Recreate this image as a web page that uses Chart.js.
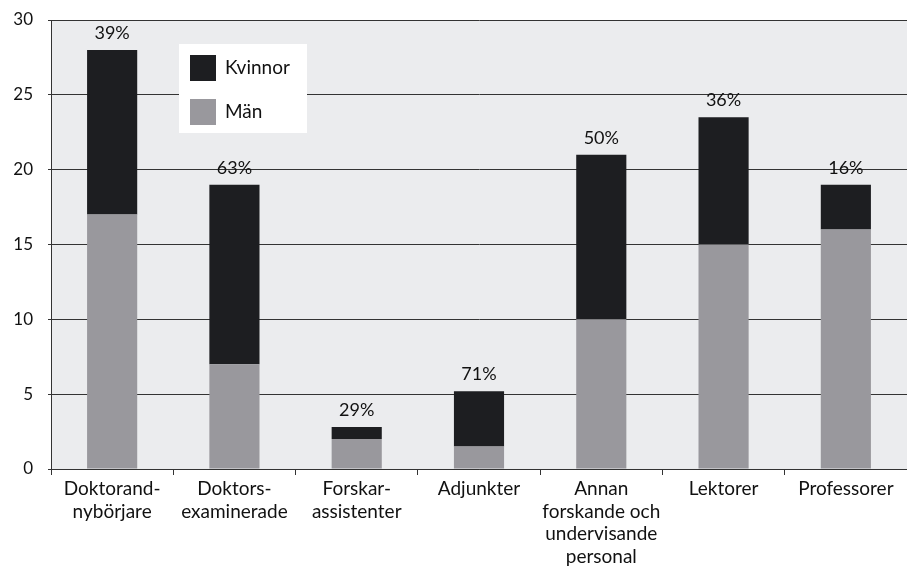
<!DOCTYPE html>
<html lang="sv">
<head>
<meta charset="UTF-8">
<title>Kvinnor och män</title>
<script src="https://cdn.jsdelivr.net/npm/chart.js@4"></script>
<style>
  html, body { margin: 0; padding: 0; background: #fff; }
  #wrap { width: 907px; height: 567px; position: relative; }
</style>
</head>
<body>
<div id="wrap"><canvas id="c"></canvas></div>
<script>
// kategorier (flera rader per etikett)
const categories = [
  ['Doktorand-', 'nybörjare'],
  ['Doktors-', 'examinerade'],
  ['Forskar-', 'assistenter'],
  ['Adjunkter'],
  ['Annan', 'forskande och', 'undervisande', 'personal'],
  ['Lektorer'],
  ['Professorer']
];
const manValues     = [17, 7, 2, 1.5, 10, 15, 16];
const kvinnorValues = [11, 12, 0.8, 3.7, 11, 8.5, 3];
const percentLabels = ['39%', '63%', '29%', '71%', '50%', '36%', '16%'];

const FONT = 'Lato, "DejaVu Sans", sans-serif';
const BLACK = '#1d1e21';
const GRAY = '#99989d';

// bakgrund i diagramytan
const plotBg = {
  id: 'plotBg',
  beforeDraw(chart) {
    const { ctx, chartArea: a } = chart;
    ctx.save();
    ctx.fillStyle = '#ebecee';
    ctx.fillRect(a.left, a.top, a.right - a.left, a.bottom - a.top);
    ctx.restore();
  }
};

// procent ovanför staplarna + förklaring
const extras = {
  id: 'extras',
  afterDatasetsDraw(chart) {
    const { ctx } = chart;
    const x = chart.scales.x, y = chart.scales.y;
    ctx.save();
    ctx.font = '18px ' + FONT;
    ctx.fillStyle = '#111';
    ctx.textAlign = 'center';
    ctx.textBaseline = 'alphabetic';
    percentLabels.forEach((t, i) => {
      const tot = manValues[i] + kvinnorValues[i];
      ctx.fillText(t, x.getPixelForValue(i), y.getPixelForValue(tot) - 11);
    });

    // förklaring
    ctx.fillStyle = '#fff';
    ctx.fillRect(179, 44, 128, 89);
    ctx.fillStyle = BLACK;
    ctx.fillRect(190, 55, 26, 26);
    ctx.fillStyle = GRAY;
    ctx.fillRect(190, 99, 26, 26);
    ctx.fillStyle = '#111';
    ctx.font = '19px ' + FONT;
    ctx.textAlign = 'left';
    ctx.textBaseline = 'middle';
    ctx.fillText('Kvinnor', 225, 68);
    ctx.fillText('Män', 225, 112);
    ctx.restore();
  }
};

new Chart(document.getElementById('c'), {
  type: 'bar',
  data: {
    labels: categories,
    datasets: [
      { label: 'Män', data: manValues, backgroundColor: GRAY },
      { label: 'Kvinnor', data: kvinnorValues, backgroundColor: BLACK }
    ]
  },
  options: {
    responsive: true,
    maintainAspectRatio: false,
    animation: false,
    layout: { padding: 0 },
    plugins: { legend: { display: false }, tooltip: { enabled: false } },
    datasets: { bar: { categoryPercentage: 1, barPercentage: 0.41 } },
    scales: {
      x: {
        stacked: true,
        grid: { drawOnChartArea: false, drawTicks: true, tickLength: 6, color: '#333', offset: true },
        border: { color: '#333', width: 1 },
        ticks: { color: '#111', font: { family: FONT, size: 19, lineHeight: 1.18 }, padding: 3, maxRotation: 0, autoSkip: false },
        afterFit(s) { s.height = 98; }
      },
      y: {
        stacked: true,
        min: 0, max: 30,
        ticks: { stepSize: 5, color: '#111', font: { family: FONT, size: 17 }, padding: 15 },
        grid: { color: '#333', drawTicks: true, tickLength: 3 },
        border: { color: '#333', width: 1 },
        afterFit(s) { s.width = 51; s.paddingTop = 20; }
      }
    }
  },
  plugins: [plotBg, extras]
});
</script>
</body>
</html>
